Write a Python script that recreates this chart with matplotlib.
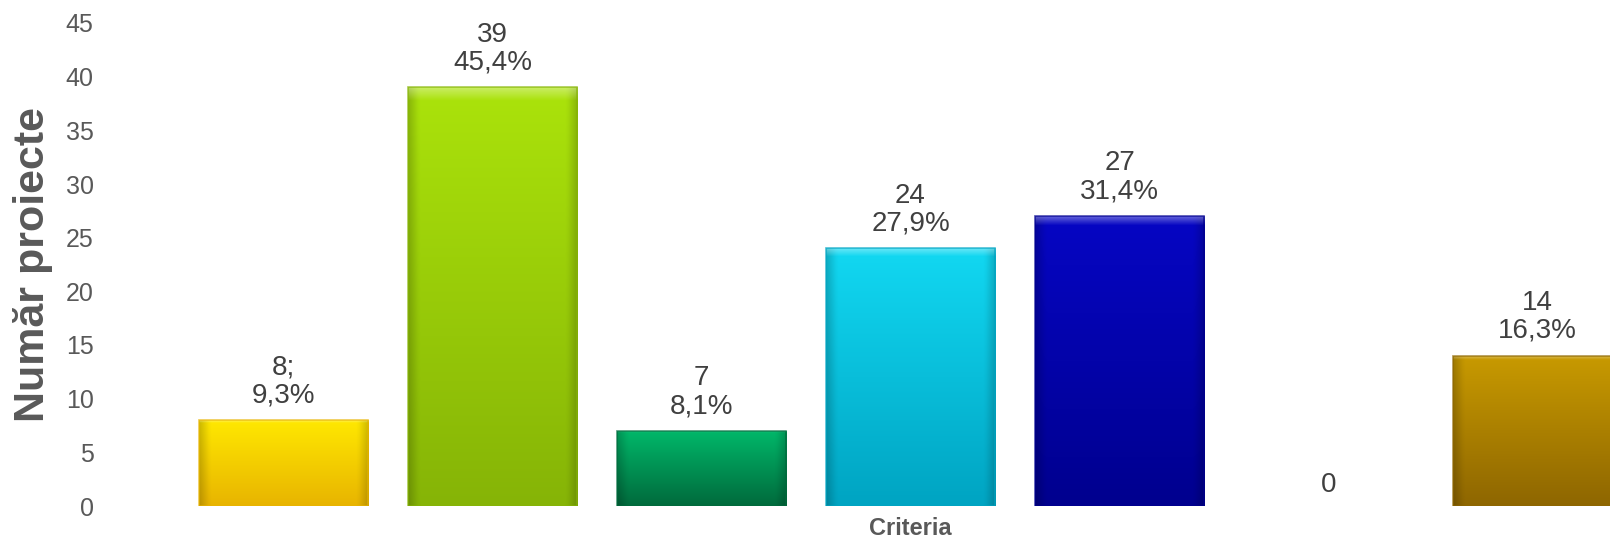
import numpy as np
import matplotlib
matplotlib.use("Agg")
import matplotlib.pyplot as plt
from matplotlib.colors import to_rgb

# data
values = [8, 39, 7, 24, 27, 0, 14]
labels = ["8;\n9,3%", "39\n45,4%", "7\n8,1%", "24\n27,9%", "27\n31,4%", "0", "14\n16,3%"]
top_colors = ["#FFE800", "#ABE30B", "#00B86A", "#12D8F2", "#0606C4", "#FFFFFF", "#C89A00"]
bottom_colors = ["#E8B400", "#86B406", "#006A3C", "#00A4C2", "#00008E", "#FFFFFF", "#8E6600"]
yticks = [0, 5, 10, 15, 20, 25, 30, 35, 40, 45]

plt.rcParams['font.family'] = ['Liberation Sans', 'DejaVu Sans']

W, H = 1610, 537
fig = plt.figure(figsize=(W / 100, H / 100), dpi=100)
# plot area runs past the right edge of the picture (last bar is cut)
left, right = 179, 1642
bottom, top = 506, 23
ax = fig.add_axes([left / W, (H - bottom) / H, (right - left) / W, (bottom - top) / H])

x = np.arange(len(values))
bars = ax.bar(x, values, width=0.81, color="none", edgecolor="none", zorder=2)


def bar_image(c_top, c_bot, n=200, m=60):
    t = np.linspace(0, 1, n)[:, None, None]
    img = (1 - t) * np.array(to_rgb(c_top)) + t * np.array(to_rgb(c_bot))
    img = np.repeat(img, m, axis=1)
    u = np.linspace(0, 1, m)
    # darker sides (bevel)
    side = 1 - 0.18 * np.clip(1 - np.minimum(u, 1 - u) / 0.06, 0, 1)
    img = img * side[None, :, None]
    # light top edge
    v = np.linspace(0, 1, n)
    hl = 0.35 * np.clip(1 - v / 0.03, 0, 1)
    img = img + (1 - img) * hl[:, None, None]
    return np.clip(img, 0, 1)


for b, ct, cb, val in zip(bars, top_colors, bottom_colors, values):
    if val <= 0:
        continue
    x0, w = b.get_x(), b.get_width()
    im = ax.imshow(bar_image(ct, cb), extent=[x0, x0 + w, 0, val],
                   aspect="auto", origin="upper", zorder=2, interpolation="bilinear")
    im.set_clip_path(b)
    ax.add_patch(plt.Rectangle((x0, 0), w, val, fill=False,
                               edgecolor=to_rgb(cb), lw=1.2, alpha=0.7, zorder=3))

for xi, val, lab in zip(x, values, labels):
    ax.annotate(lab, (xi, val), xytext=(0, 8.5 if val > 0 else 5.5), textcoords="offset points",
                ha="center", va="bottom", fontsize=20, color="#404040",
                linespacing=1.1)

ax.set_xlim(-0.5, len(values) - 0.5)
ax.set_ylim(0, 45)
ax.set_yticks(yticks)
ax.set_xticks([])
ax.tick_params(axis="y", length=0, pad=61.5, labelsize=18, labelcolor="#595959")
for s in ax.spines.values():
    s.set_visible(False)

ax.set_ylabel("Număr proiecte", fontsize=31, fontweight="bold", color="#595959", labelpad=9)
ax.set_xlabel("Criteria", fontsize=17, fontweight="bold", color="#595959", labelpad=8)

fig.savefig("out.png", dpi=100)
